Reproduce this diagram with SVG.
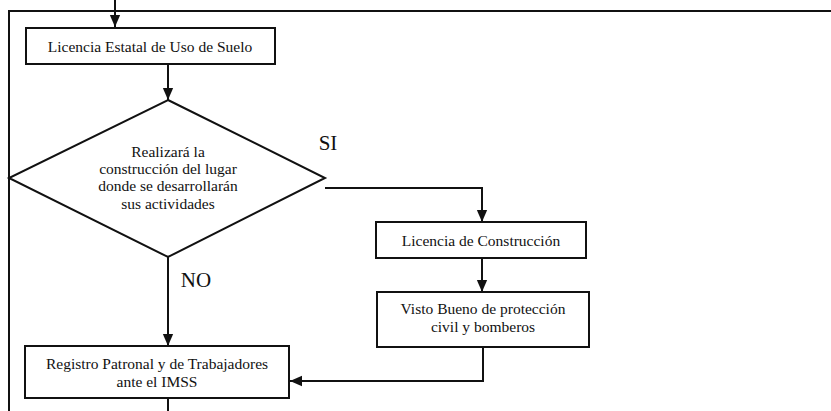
<svg xmlns="http://www.w3.org/2000/svg" width="831" height="411" viewBox="0 0 831 411">
<style>
.n{fill:#fff;stroke:#111;stroke-width:2}
.c{fill:none;stroke:#111;stroke-width:2}
text{font-family:'Liberation Serif','Times New Roman',serif;fill:#111;text-anchor:middle}
.t{font-size:15.5px}
.l{font-size:21px}
</style>
<defs>
<marker id="a" markerWidth="12" markerHeight="14" viewBox="0 0 14 12" refX="14" refY="6" orient="auto" markerUnits="userSpaceOnUse">
<path d="M0,0 L14,6 L0,12 Z" fill="#111"/>
</marker>
</defs>
<rect width="831" height="411" fill="#fff"/>
<g id="connectors">
<path class="c" d="M9,411 V11 H831"/>
<path class="c" d="M115,0 V27" marker-end="url(#a)"/>
<path class="c" d="M168,64 V100" marker-end="url(#a)"/>
<path class="c" d="M325,188 H482 V222" marker-end="url(#a)"/>
<path class="c" d="M482,258 V292" marker-end="url(#a)"/>
<path class="c" d="M168,257 V346" marker-end="url(#a)"/>
<path class="c" d="M483,347 V381 H290" marker-end="url(#a)"/>
<path class="c" d="M168,398 V411"/>
</g>
<g id="n1">
<rect class="n" x="26" y="28" width="249" height="36"/>
<text class="t" x="150" y="52">Licencia Estatal de Uso de Suelo</text>
</g>
<g id="n2">
<polygon class="n" points="168,100 325,178 168,257 9,178"/>
<text class="t" x="168" y="157">Realizará la</text>
<text class="t" x="168" y="174">construcción del lugar</text>
<text class="t" x="168" y="191">donde se desarrollarán</text>
<text class="t" x="168" y="209">sus actividades</text>
</g>
<g id="n3">
<rect class="n" x="376" y="222" width="210" height="36"/>
<text class="t" x="481" y="246">Licencia de Construcción</text>
</g>
<g id="n4">
<rect class="n" x="377" y="292" width="212" height="55"/>
<text class="t" x="483" y="314">Visto Bueno de protección</text>
<text class="t" x="483" y="332">civil y bomberos</text>
</g>
<g id="n5">
<rect class="n" x="25" y="346" width="264" height="52"/>
<text class="t" x="157" y="369">Registro Patronal y de Trabajadores</text>
<text class="t" x="157" y="387">ante el IMSS</text>
</g>
<g id="labels">
<text class="l" x="328" y="150">SI</text>
<text class="l" x="196" y="287">NO</text>
</g>
</svg>
